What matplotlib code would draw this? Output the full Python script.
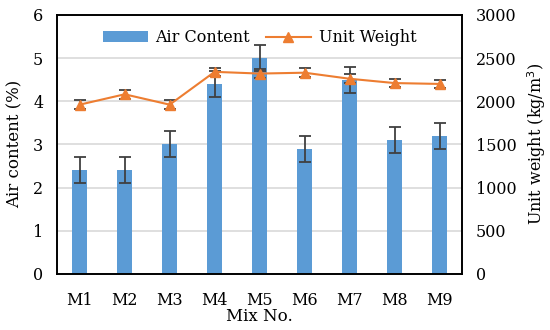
import matplotlib.pyplot as plt
from matplotlib.lines import Line2D
import numpy as np

plt.rcParams['font.family'] = ['DejaVu Serif']

mixes = ["M1", "M2", "M3", "M4", "M5", "M6", "M7", "M8", "M9"]
air = [2.4, 2.4, 3.0, 4.4, 5.0, 2.9, 4.5, 3.1, 3.2]
air_err = [0.3, 0.3, 0.3, 0.3, 0.3, 0.3, 0.3, 0.3, 0.3]
unit_wt = [1960, 2080, 1960, 2340, 2320, 2330, 2260, 2210, 2200]
unit_err = [50, 50, 50, 50, 50, 50, 50, 50, 50]

fig, ax = plt.subplots(figsize=(5.5, 3.3), dpi=100)
fig.subplots_adjust(left=0.104, right=0.84, top=0.955, bottom=0.17)

x = np.arange(len(mixes))
ax.bar(x, air, 0.32, color="#5B9BD5", label="Air Content", zorder=2)
ax.errorbar(x, air, yerr=air_err, fmt="none", ecolor="#404040", elinewidth=1.3,
            capsize=4, capthick=1.3, zorder=3)
ax.set_ylim(0, 6)
ax.set_xlim(-0.5, 8.5)
ax.set_xticks(x)
ax.set_xticklabels(mixes)
ax.set_yticks(range(0, 7))
ax.grid(axis="y", color="#d9d9d9", linewidth=1.2, zorder=0)
ax.set_axisbelow(True)
ax.set_xlabel("Mix No.", fontsize=12, labelpad=-1)
ax.set_ylabel("Air content (%)", fontsize=12, labelpad=7)
ax.tick_params(axis="x", length=0, labelsize=11.5, pad=13)
ax.tick_params(axis="y", length=0, labelsize=11.5, pad=10)

ax2 = ax.twinx()
ax2.errorbar(x, unit_wt, yerr=unit_err, color="#ED7D31", marker="^", markersize=7,
             linewidth=1.5, ecolor="#404040", elinewidth=1.3, capsize=4,
             capthick=1.3, zorder=4)
ax2.set_ylim(0, 3000)
ax2.set_yticks(range(0, 3001, 500))
ax2.set_ylabel("Unit weight (kg/m$^3$)", fontsize=11.5, labelpad=6)
ax2.tick_params(length=0, labelsize=11.5, pad=10)

for a in (ax, ax2):
    for s in a.spines.values():
        s.set_linewidth(1.2)
        s.set_color("black")

h1, l1 = ax.get_legend_handles_labels()
line_h = Line2D([], [], color="#ED7D31", marker="^", markersize=7, linewidth=1.5)
ax2.legend(h1 + [line_h], l1 + ["Unit Weight"], loc="upper center", ncol=2,
           frameon=False, fontsize=11.5, bbox_to_anchor=(0.5, 1.0),
           columnspacing=1.0, handlelength=2.8, handletextpad=0.5)

fig.savefig("out.png", dpi=100)
